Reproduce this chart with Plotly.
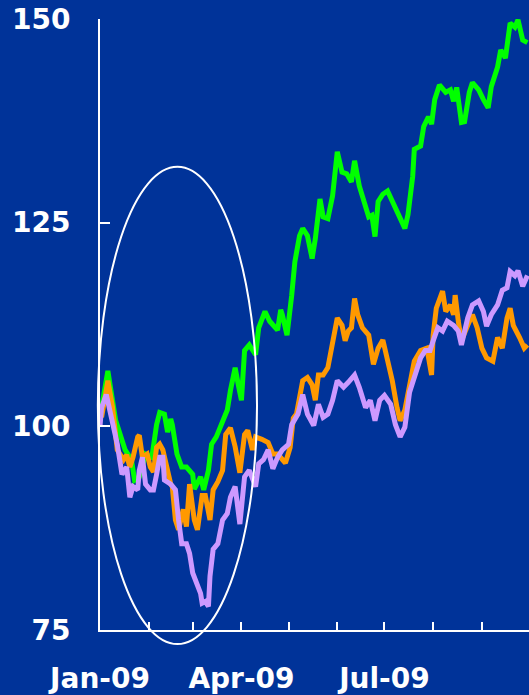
import pandas as pd
import plotly.graph_objects as go

# ---- data (day offsets from 2009-01-01, index values) ----
green_days = [1, 5, 10, 13, 16, 20, 22, 25, 29, 33, 36, 38, 41, 43, 45, 46, 49, 52, 55, 59, 60, 64, 66, 69, 71, 74,
              78, 81, 83, 86, 88, 90, 92, 95, 99, 101, 105, 108, 113, 115, 116, 119, 122, 124, 127, 129, 132, 135,
              137, 140, 142, 145, 148, 151, 154, 157, 160, 162, 165, 169, 171, 173, 175, 177, 180, 183, 186, 190,
              194, 196, 199, 200, 204, 206, 209, 211, 213, 216, 220, 223, 225, 227, 230, 232, 235, 237, 241, 244,
              247, 249, 253, 255, 258, 261, 264, 266, 269, 272]
green_vals = [102.3, 106.8, 100.7, 99.0, 97.1, 95.9, 93.4, 93.8, 96.6, 96.2, 100.2, 101.7, 101.5, 99.3, 100.9, 100.2,
              96.6, 95.0, 95.0, 94.1, 92.3, 93.8, 92.2, 94.6, 97.8, 98.7, 100.7, 102.0, 104.4, 107.2, 105.1, 103.2,
              109.3, 110.0, 108.8, 112.1, 114.1, 112.9, 111.8, 114.3, 113.7, 111.2, 116.1, 120.2, 123.4, 124.3,
              123.4, 120.6, 123.0, 127.9, 125.7, 125.5, 128.3, 133.7, 131.2, 131.0, 130.0, 132.6, 129.5, 127.1,
              125.7, 125.9, 123.3, 127.6, 128.5, 128.9, 127.7, 125.9, 124.3, 126.0, 130.7, 134.0, 134.4, 136.8,
              138.0, 137.1, 140.1, 141.9, 141.0, 141.3, 139.9, 141.6, 137.3, 137.4, 141.0, 142.2, 141.3, 140.1,
              139.1, 141.7, 144.1, 146.2, 145.2, 149.5, 149.0, 149.9, 147.4, 147.1]

orange_days = [1, 5, 8, 10, 11, 15, 17, 19, 21, 24, 25, 27, 30, 32, 34, 36, 38, 40, 43, 45, 46, 48, 50, 53, 55, 57,
               60, 62, 65, 67, 70, 72, 75, 78, 80, 83, 86, 89, 92, 94, 97, 99, 103, 107, 110, 113, 118, 121, 123,
               125, 129, 132, 135, 137, 139, 142, 145, 148, 151, 154, 156, 158, 160, 162, 164, 167, 171, 174, 177,
               180, 183, 186, 189, 191, 194, 197, 200, 204, 208, 211, 212, 214, 218, 220, 223, 225, 226, 228, 230,
               234, 237, 240, 243, 246, 250, 253, 256, 259, 261, 263, 265, 267, 270, 272]
orange_vals = [101.1, 105.6, 102.3, 98.7, 97.1, 95.9, 96.5, 95.0, 96.2, 98.7, 98.9, 96.2, 96.6, 95.0, 94.4, 97.4,
               97.8, 97.1, 94.1, 92.9, 92.6, 88.5, 87.3, 89.8, 87.7, 92.9, 88.5, 87.3, 91.5, 91.5, 88.5, 92.2, 93.2,
               94.6, 99.0, 99.8, 97.5, 94.3, 99.0, 99.5, 97.1, 98.7, 98.4, 98.0, 96.6, 96.6, 95.5, 97.4, 101.0,
               101.5, 105.6, 106.0, 105.1, 103.2, 106.3, 106.3, 107.2, 110.5, 113.3, 112.4, 110.5, 111.7, 112.1,
               115.7, 113.7, 112.1, 111.2, 107.6, 109.6, 110.6, 108.4, 105.6, 102.3, 100.7, 102.0, 105.1, 108.0,
               109.3, 109.6, 106.3, 111.2, 114.5, 116.6, 114.1, 114.9, 113.7, 116.1, 112.9, 110.5, 112.4, 113.7,
               112.1, 109.6, 108.4, 108.0, 110.9, 109.6, 113.3, 114.5, 112.4, 111.7, 110.9, 109.6, 110.0]

purple_days = [0, 1, 4, 6, 8, 11, 14, 17, 19, 21, 24, 25, 27, 29, 32, 34, 36, 38, 40, 41, 45, 48, 50, 52, 55, 57, 59,
               62, 64, 65, 67, 69, 70, 72, 75, 78, 81, 83, 86, 89, 92, 95, 99, 101, 104, 107, 110, 113, 116, 120,
               122, 126, 129, 132, 136, 139, 142, 145, 148, 151, 155, 158, 162, 165, 169, 172, 175, 178, 181, 185,
               188, 191, 194, 197, 200, 204, 207, 210, 212, 215, 218, 221, 225, 228, 230, 234, 237, 241, 244, 246,
               249, 253, 256, 259, 261, 264, 266, 269, 272]
purple_vals = [100.0, 102.3, 103.9, 102.0, 100.2, 97.8, 94.1, 95.0, 91.3, 92.6, 92.2, 94.6, 96.2, 92.9, 92.2, 92.2,
               94.1, 96.2, 96.2, 93.4, 92.9, 92.2, 88.5, 85.6, 85.6, 84.4, 82.0, 80.5, 79.5, 78.3, 78.5, 77.9, 81.6,
               84.9, 85.6, 88.5, 89.3, 91.3, 92.6, 88.0, 93.8, 94.6, 92.6, 95.4, 95.9, 97.1, 94.8, 96.2, 97.1, 97.8,
               100.2, 101.5, 103.9, 101.5, 100.1, 102.7, 101.1, 101.5, 103.2, 105.6, 104.8, 105.4, 106.3, 104.8,
               102.3, 103.2, 100.7, 103.2, 103.8, 102.7, 100.2, 98.7, 99.9, 104.2, 106.0, 108.4, 109.3, 109.3,
               110.5, 112.1, 111.7, 112.9, 112.4, 111.7, 110.0, 113.3, 114.9, 115.4, 114.1, 112.3, 113.7, 114.9,
               116.7, 117.0, 119.0, 118.5, 119.1, 117.2, 118.5]

tick_dates = ["2009-01-01", "2009-02-01", "2009-03-01", "2009-04-01", "2009-05-01", "2009-06-01",
              "2009-07-01", "2009-08-01", "2009-09-01"]
tick_labels = ["Jan-09", "", "", "Apr-09", "", "", "Jul-09", "", ""]
y_ticks = [75, 100, 125, 150]

start = pd.Timestamp("2009-01-01")


def to_dates(days):
    return start + pd.to_timedelta(days, unit="D")


BG = "#003399"
FONT = dict(family="DejaVu Sans", size=28, color="white", weight="bold")

fig = go.Figure()
for days, vals, col in [(green_days, green_vals, "#00FF00"),
                        (orange_days, orange_vals, "#FF9900"),
                        (purple_days, purple_vals, "#CC99FF")]:
    fig.add_trace(go.Scatter(x=to_dates(days), y=vals, mode="lines",
                             line=dict(color=col, width=5), showlegend=False,
                             hoverinfo="skip"))

# highlight ellipse
fig.add_shape(type="circle", xref="paper", yref="paper",
              x0=-0.005, x1=0.366, y0=-0.023, y1=0.758,
              line=dict(color="white", width=2), fillcolor="rgba(0,0,0,0)")

fig.update_layout(
    width=529, height=695,
    margin=dict(l=100, r=0, t=19, b=61),
    paper_bgcolor=BG, plot_bgcolor=BG,
    xaxis=dict(range=["2009-01-01", "2009-10-01"], tickvals=tick_dates, ticktext=tick_labels,
               ticks="inside", ticklen=8, tickwidth=2, tickcolor="white",
               showline=True, linecolor="white", linewidth=2, showgrid=False, zeroline=False,
               tickfont=FONT, ticklabelstandoff=22),
    yaxis=dict(range=[75, 150], tickvals=y_ticks, ticks="inside", ticklen=10, tickwidth=2,
               tickcolor="white", showline=True, linecolor="white", linewidth=2,
               showgrid=False, zeroline=False, tickfont=FONT, ticklabelstandoff=22),
)

fig.write_html("out.html")
